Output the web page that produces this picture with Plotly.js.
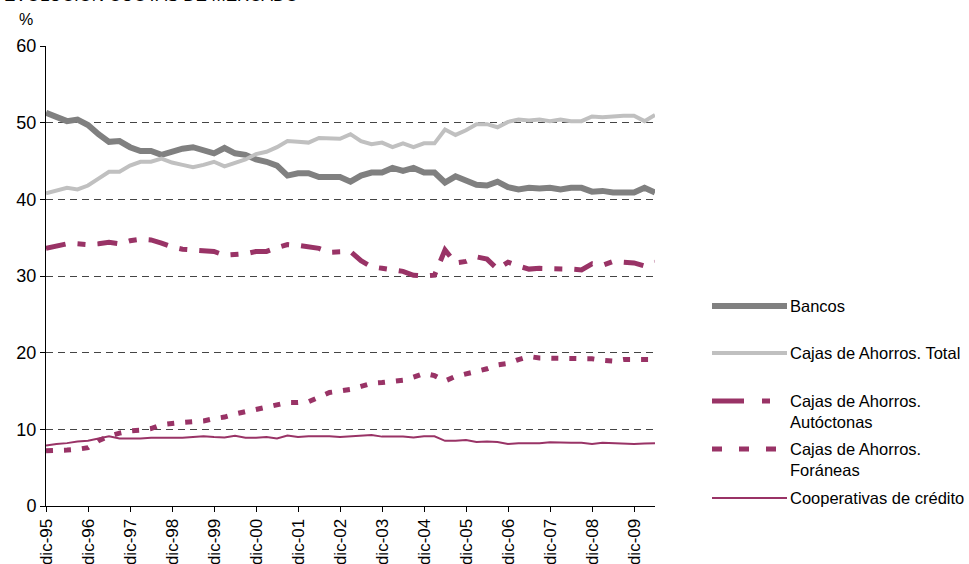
<!DOCTYPE html>
<html>
<head>
<meta charset="utf-8">
<script src="https://cdn.plot.ly/plotly-3.0.1.min.js"></script>
<style>html,body{margin:0;padding:0;background:#fff;}#chart{width:969px;height:564px;}</style>
</head>
<body>
<div id="chart"></div>
<script>
// ---- data ----
const periods = [
 "dic-95","mar-96","jun-96","sep-96","dic-96","mar-97","jun-97","sep-97","dic-97","mar-98",
 "jun-98","sep-98","dic-98","mar-99","jun-99","sep-99","dic-99","mar-00","jun-00","sep-00",
 "dic-00","mar-01","jun-01","sep-01","dic-01","mar-02","jun-02","sep-02","dic-02","mar-03",
 "jun-03","sep-03","dic-03","mar-04","jun-04","sep-04","dic-04","mar-05","jun-05","sep-05",
 "dic-05","mar-06","jun-06","sep-06","dic-06","mar-07","jun-07","sep-07","dic-07","mar-08",
 "jun-08","sep-08","dic-08","mar-09","jun-09","sep-09","dic-09","mar-10","jun-10"];
const tickLabels = ["dic-95","dic-96","dic-97","dic-98","dic-99","dic-00","dic-01","dic-02",
 "dic-03","dic-04","dic-05","dic-06","dic-07","dic-08","dic-09"];
const bancos = [51.3,50.7,50.2,50.4,49.7,48.5,47.5,47.6,46.8,46.3,
 46.3,45.8,46.3,46.6,46.8,46.4,46.0,46.7,46.0,45.8,
 45.2,44.9,44.4,43.1,43.4,43.4,42.9,42.9,42.9,42.3,
 43.1,43.5,43.5,44.1,43.7,44.1,43.5,43.5,42.2,43.0,
 42.4,41.9,41.8,42.3,41.6,41.3,41.5,41.4,41.5,41.3,
 41.5,41.5,41.0,41.1,40.9,40.9,40.9,41.5,40.9];
const cajasTotal = [40.8,41.2,41.5,41.3,41.8,42.7,43.6,43.6,44.4,44.9,
 44.9,45.3,44.8,44.5,44.2,44.5,44.9,44.3,44.8,45.2,
 45.9,46.2,46.8,47.6,47.5,47.4,48.0,47.9,47.9,48.5,
 47.6,47.2,47.4,46.8,47.3,46.8,47.3,47.3,49.1,48.4,
 49.0,49.8,49.8,49.4,50.1,50.4,50.3,50.4,50.2,50.4,
 50.2,50.2,50.8,50.7,50.85,50.9,50.9,50.2,51.0];
const cajasAutoctonas = [33.6,33.9,34.2,34.2,34.1,34.2,34.4,34.2,34.6,34.8,
 34.7,34.3,33.8,33.5,33.4,33.4,33.2,32.7,32.8,32.9,
 33.2,33.2,33.7,34.1,34.0,33.8,33.6,33.1,33.2,33.2,
 32.0,31.2,31.0,30.8,30.6,30.1,30.0,30.1,33.4,31.7,
 31.9,32.5,32.2,30.9,31.8,31.3,30.9,31.0,31.0,31.0,
 30.9,30.8,31.6,31.4,31.9,31.8,31.7,31.3,31.8];
const cajasForaneas = [7.2,7.2,7.3,7.4,7.6,8.5,9.1,9.5,9.8,9.9,
 10.1,10.6,10.8,10.9,11.0,11.1,11.4,11.6,12.0,12.3,
 12.6,12.9,13.1,13.5,13.5,13.6,14.2,14.8,15.0,15.2,
 15.6,16.0,16.1,16.3,16.4,16.8,17.3,17.0,16.3,16.9,
 17.2,17.6,17.9,18.4,18.6,19.1,19.5,19.3,19.3,19.3,
 19.3,19.3,19.2,19.0,18.9,19.1,19.1,19.1,19.1];
const cooperativas = [7.9,8.1,8.2,8.4,8.5,8.8,9.1,8.8,8.8,8.8,
 8.9,8.9,8.9,8.9,9.0,9.1,9.0,8.95,9.15,8.9,
 8.9,9.0,8.8,9.2,9.0,9.1,9.1,9.1,9.0,9.1,
 9.15,9.25,9.05,9.05,9.05,8.95,9.1,9.1,8.5,8.5,
 8.6,8.35,8.4,8.35,8.1,8.2,8.2,8.2,8.3,8.25,
 8.25,8.25,8.1,8.25,8.2,8.2,8.1,8.15,8.2];
const yTicks = [0,10,20,30,40,50,60];
const seriesNames = ["Bancos","Cajas de Ahorros. Total","Cajas de Ahorros.<br>Autóctonas",
 "Cajas de Ahorros.<br>Foráneas","Cooperativas de crédito"];

// ---- styles ----
const FONT = "Liberation Sans, Arial, sans-serif";
const PURPLE = "#993366";
const W = 969, H = 564, L = 46, R = 314, T = 46, B = 58;
const PW = W - L - R, PH = H - T - B;
const px = v => (v - L) / PW;
const py = v => (H - B - v) / PH;

const traces = [
 {x: periods, y: cooperativas, name: seriesNames[4], mode: "lines",
  line: {color: PURPLE, width: 2}},
 {x: periods, y: cajasForaneas, name: seriesNames[3], mode: "lines",
  line: {color: PURPLE, width: 5, dash: "7px,11px"}},
 {x: periods, y: cajasAutoctonas, name: seriesNames[2], mode: "lines",
  line: {color: PURPLE, width: 5, dash: "20px,12px,8px,12px"}},
 {x: periods, y: bancos, name: seriesNames[0], mode: "lines",
  line: {color: "#808080", width: 6}},
 {x: periods, y: cajasTotal, name: seriesNames[1], mode: "lines",
  line: {color: "#c0c0c0", width: 4}}
];

// manual legend
const legendItems = [
 {y: 306, color: "#808080", width: 6, dash: "solid", ty: 306, text: seriesNames[0]},
 {y: 353, color: "#c0c0c0", width: 4, dash: "solid", ty: 353, text: seriesNames[1]},
 {y: 401, color: PURPLE, width: 5, dash: "32px,18px,8px,40px", ty: 411, text: seriesNames[2]},
 {y: 449, color: PURPLE, width: 5, dash: "10px,17px", ty: 459, text: seriesNames[3]},
 {y: 498, color: PURPLE, width: 2, dash: "solid", ty: 498, text: seriesNames[4]}
];
const shapes = legendItems.map(it => ({
 type: "line", xref: "paper", yref: "paper",
 x0: px(712), x1: px(787), y0: py(it.y), y1: py(it.y),
 line: {color: it.color, width: it.width, dash: it.dash}
}));
const annotations = legendItems.map(it => ({
 xref: "paper", yref: "paper", x: px(788), y: py(it.ty),
 xanchor: "left", yanchor: "middle", align: "left", showarrow: false,
 text: it.text, font: {family: FONT, size: 16.5, color: "#000"}
}));
annotations.push({
 xref: "paper", yref: "paper", x: px(2), y: py(7), xanchor: "left", yanchor: "bottom",
 showarrow: false, text: "EVOLUCIÓN CUOTAS DE MERCADO",
 font: {family: FONT, size: 17, color: "#000"}
});
annotations.push({
 xref: "paper", yref: "paper", x: px(26), y: py(19), xanchor: "center", yanchor: "middle",
 showarrow: false, text: "%", font: {family: FONT, size: 16, color: "#000"}
});

const layout = {
 width: W, height: H,
 margin: {l: L, r: R, t: T, b: B, pad: 0},
 paper_bgcolor: "#fff", plot_bgcolor: "#fff",
 showlegend: false,
 font: {family: FONT, color: "#000"},
 xaxis: {
  type: "category", categoryorder: "array", categoryarray: periods,
  range: [0, periods.length - 1],
  tickmode: "array", tickvals: tickLabels, ticktext: tickLabels,
  tickangle: -90, tickfont: {family: FONT, size: 17, color: "#000"},
  ticks: "outside", ticklen: 5, tickcolor: "#000", tickwidth: 1,
  showline: true, linecolor: "#000", linewidth: 1,
  showgrid: false, zeroline: false, fixedrange: true
 },
 yaxis: {
  range: [0, 60], tickmode: "array", tickvals: yTicks,
  tickfont: {family: FONT, size: 18, color: "#000"},
  ticks: "outside", ticklen: 5, tickcolor: "#000", tickwidth: 1,
  showline: true, linecolor: "#000", linewidth: 1,
  showgrid: true, gridcolor: "#444", gridwidth: 1, griddash: "7px,5px",
  zeroline: false, fixedrange: true
 },
 shapes: shapes,
 annotations: annotations
};

Plotly.newPlot("chart", traces, layout, {displayModeBar: false, staticPlot: true});
</script>
</body>
</html>
